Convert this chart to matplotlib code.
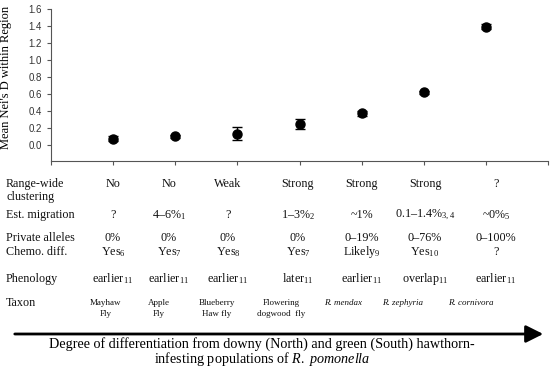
import numpy as np
import matplotlib.pyplot as plt
from matplotlib.patches import FancyArrowPatch

plt.rcParams['mathtext.fontset'] = 'custom'
plt.rcParams['mathtext.rm'] = 'Liberation Serif'
plt.rcParams['mathtext.it'] = 'Liberation Serif:italic'

# data
pos = [1, 2, 3, 4, 5, 6, 7]
nei_d = [0.07, 0.10, 0.13, 0.25, 0.37, 0.62, 1.39]
nei_err = [0.03, 0.02, 0.075, 0.06, 0.03, 0.02, 0.03]

row_labels = ["Est. migration", "Private alleles", "Chemo. diff.", "Phenology"]
clustering = ["No", "No", "Weak", "Strong", "Strong", "Strong", "?"]
migration = ["?", r"4–6%$_{\mathrm{1}}$", "?", r"1–3%$_{\mathrm{2}}$", "~1%",
             r"0.1–1.4%$_{\mathrm{3,4}}$", r"~0%$_{\mathrm{5}}$"]
private = ["0%", "0%", "0%", "0%", "0–19%", "0–76%", "0–100%"]
chemo = [r"Yes$_{\mathrm{6}}$", r"Yes$_{\mathrm{7}}$", r"Yes$_{\mathrm{8}}$", r"Yes$_{\mathrm{7}}$",
         r"Likely$_{\mathrm{9}}$", r"Yes$_{\mathrm{10}}$", "?"]
phenology = [r"earlier$_{\mathrm{11}}$", r"earlier$_{\mathrm{11}}$", r"earlier$_{\mathrm{11}}$",
             r"later$_{\mathrm{11}}$", r"earlier$_{\mathrm{11}}$", r"overlap$_{\mathrm{11}}$",
             r"earlier$_{\mathrm{11}}$"]
taxa = ["Mayhaw\nFly", "Apple\nFly", "Blueberry\nHaw fly", "Flowering\ndogwood  fly",
        "R. mendax", "R. zephyria", "R. cornivora"]

W, H = 550, 377
fig = plt.figure(figsize=(5.5, 3.77), dpi=100)

# axes in pixel terms
ax = fig.add_axes([51 / W, 1 - 161 / H, 497 / W, 152 / H])
ax.errorbar(pos, nei_d, yerr=nei_err, fmt='o', color='black', markersize=6.5,
            capsize=3.5, elinewidth=1, capthick=1)
ax.set_xlim(0, 8)
ax.set_ylim(-0.19, 1.6)
ax.set_yticks(np.arange(0, 1.61, 0.2))
ax.set_yticklabels([f"{v:.1f}" for v in np.arange(0, 1.61, 0.2)],
                   fontfamily='Liberation Sans', fontsize=7, color='#333333')
ax.set_xticks(range(0, 9))
ax.set_xticklabels([])
ax.tick_params(axis='both', direction='out', length=3, width=0.8, color='#555555')
ax.spines['top'].set_visible(False)
ax.spines['right'].set_visible(False)
for s in ['left', 'bottom']:
    ax.spines[s].set_color('#555555')
    ax.spines[s].set_linewidth(0.8)
ax.set_ylabel("Mean Nei's D within Region", fontfamily='Liberation Serif',
              fontsize=9)
ax.yaxis.set_label_coords(-0.078, 0.55)


def px(x, y):
    return x / W, 1 - y / H


col_x = [113, 169, 228, 298, 362, 425, 496]
tax_x = [106, 159, 217, 281, 343, 403, 471]
tfont = dict(fontfamily='Liberation Serif', fontsize=8.7, color='#111111')

fig.text(*px(6, 184), "Range-wide", ha='left', va='center', **tfont)
fig.text(*px(6, 197), "clustering", ha='left', va='center', **tfont)
for x, s in zip(col_x, clustering):
    fig.text(*px(x, 184), s, ha='center', va='center', **tfont)

rows_y = [215, 238, 252, 279]
for lab, yy, vals in zip(row_labels, rows_y, [migration, private, chemo, phenology]):
    fig.text(*px(6, yy), lab, ha='left', va='center', **tfont)
    for x, s in zip(col_x, vals):
        fig.text(*px(x, yy), s, ha='center', va='center', **tfont)

fig.text(*px(6, 303), "Taxon", ha='left', va='center', **tfont)
for x, s in zip(tax_x, taxa):
    italic = s.startswith("R.")
    fig.text(*px(x, 303 if italic else 308.5), s, ha='center', va='center',
             fontfamily='Liberation Serif', fontsize=6.5, linespacing=1.35,
             fontstyle='italic' if italic else 'normal', color='#111111')

# arrow
fig.add_artist(FancyArrowPatch(
    px(12, 334), px(546, 334), transform=fig.transFigure,
    arrowstyle='-|>,head_length=7,head_width=3.5', mutation_scale=1.5,
    color='black', linewidth=2))

fig.text(*px(262, 344), "Degree of differentiation from downy (North) and green (South) hawthorn-",
         ha='center', va='center', fontfamily='Liberation Serif', fontsize=10.2)
fig.text(*px(262, 359.5), r"infesting populations of $\mathit{R.\ pomonella}$",
         ha='center', va='center', fontfamily='Liberation Serif', fontsize=10.2)

fig.savefig("out.png", dpi=100)
